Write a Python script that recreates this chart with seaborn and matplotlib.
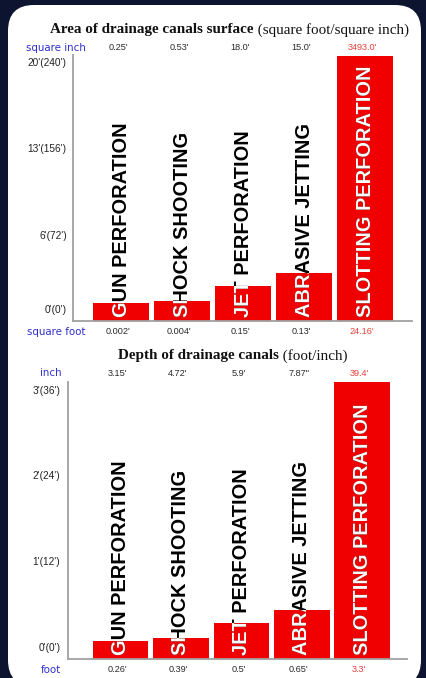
import matplotlib
matplotlib.use("Agg")
import matplotlib.pyplot as plt
import seaborn as sns
from matplotlib import transforms
from matplotlib.patches import FancyBboxPatch

# ---------------- data ----------------
methods = ["GUN PERFORATION", "SHOCK SHOOTING", "JET PERFORATION",
           "ABRASIVE JETTING", "SLOTTING PERFORATION"]

area_sq_inch = ["0.25'", "0.53'", "18.0'", "15.0'", "3493.0'"]
area_sq_foot = ["0.002'", "0.004'", "0.15'", "0.13'", "24.16'"]
area_bar_height = [1.46, 1.62, 2.83, 3.9, 21.45]      # drawn height (axis feet)
area_ticks = [0, 6, 13, 20]
area_tick_labels = ["0'(0')", "6'(72')", "13'(156')", "20'(240')"]

depth_inch = ["3.15'", "4.72'", "5.9'", '7.87"', "39.4'"]
depth_foot = ["0.26'", "0.39'", "0.5'", "0.65'", "3.3'"]
depth_bar_height = [0.21, 0.245, 0.42, 0.57, 3.23]    # drawn height (axis feet)
depth_ticks = [0, 1, 2, 3]
depth_tick_labels = ["0'(0')", "1'(12')", "2'(24')", "3'(36')"]

# ---------------- style ----------------
sns.set_style("white")
plt.rcParams["font.family"] = ["Liberation Sans", "DejaVu Sans"]

W, H = 426, 678
RED = "#f00000"
BLUE = "#2f2fd0"
VAL_RED = "#e8403a"

fig = plt.figure(figsize=(W / 100, H / 100), dpi=100)
fig.patch.set_facecolor("#0c1430")

card = FancyBboxPatch((0.08, -0.08), 4.13, 6.81,
                      boxstyle="round,pad=0,rounding_size=0.26",
                      transform=fig.dpi_scale_trans, facecolor="white",
                      edgecolor="none", zorder=0)
fig.add_artist(card)


def px_axes(left, right, top, bottom):
    return fig.add_axes([left / W, 1 - bottom / H, (right - left) / W, (bottom - top) / H])


def panel(ax, heights, ytop, ticks, tick_labels, xlim, pad,
          top_vals, bot_vals, top_name, bot_name, name_x, top_y, bot_y,
          title_bold, title_reg, title_x, title_y):
    sns.barplot(x=methods, y=heights, color=RED, saturation=1, width=0.92,
                ax=ax, linewidth=0)
    ax.set_facecolor("none")
    ax.set_xlim(*xlim)
    ax.set_ylim(0, ytop)
    ax.set_xlabel("")
    ax.set_ylabel("")
    for s in ["top", "right"]:
        ax.spines[s].set_visible(False)
    for s in ["left", "bottom"]:
        ax.spines[s].set_color("#a0a0a0")
        ax.spines[s].set_linewidth(1.3)
    ax.set_xticks([])
    ax.set_yticks(ticks, tick_labels)
    ax.tick_params(axis="y", length=0, pad=pad, labelsize=7.3, labelcolor="#222222")
    up = transforms.ScaledTranslation(0, 12 / 100, fig.dpi_scale_trans)
    for lab in ax.get_yticklabels():
        lab.set_transform(lab.get_transform() + up)

    # rotated category names, black outside bars, white inside
    lift = ax.transData + transforms.ScaledTranslation(0, 4 / 100, fig.dpi_scale_trans)
    kw = dict(rotation=90, ha="center", va="bottom", fontsize=14.4,
              fontweight="bold", family="Liberation Sans", transform=lift)
    for i, (name, patch) in enumerate(zip(methods, ax.patches)):
        ax.text(i, 0, name, color="black", clip_on=False, zorder=3, **kw)
        t = ax.text(i, 0, name, color="white", zorder=4, **kw)
        t.set_clip_path(patch)
        t.set_clip_on(True)

    # value rows
    shift = transforms.ScaledTranslation(-3 / 100, 0, fig.dpi_scale_trans)
    tr = transforms.blended_transform_factory(ax.transData, fig.transFigure) + shift
    n = len(methods)
    for i, (tv, bv) in enumerate(zip(top_vals, bot_vals)):
        c = VAL_RED if i == n - 1 else "#2a2a2a"
        fig.text(i, 1 - top_y / H, tv, transform=tr, ha="center", va="center",
                 fontsize=6.6, color=c)
        fig.text(i, 1 - bot_y / H, bv, transform=tr, ha="center", va="center",
                 fontsize=6.6, color=c)
    fig.text(name_x / W, 1 - top_y / H, top_name, ha="center", va="center",
             fontsize=7.4, color=BLUE, family="DejaVu Sans")
    fig.text(name_x / W, 1 - bot_y / H, bot_name, ha="center", va="center",
             fontsize=7.4, color=BLUE, family="DejaVu Sans")

    # title: bold part + regular part
    t1 = fig.text(title_x / W, 1 - title_y / H, title_bold, ha="left", va="center",
                  fontsize=10.9, fontweight="bold", family="Liberation Serif",
                  color="#111111")
    fig.add_artist(matplotlib.text.Annotation(
        title_reg, xy=(1, 0.5), xycoords=t1, va="center", ha="left",
        fontsize=10.9, family="Liberation Serif", color="#111111",
        annotation_clip=False))


ax1 = px_axes(73, 412, 55, 321)
panel(ax1, area_bar_height, 21.5, area_ticks, area_tick_labels, (-0.79, 4.77), 4.5,
      area_sq_inch, area_sq_foot, "square inch", "square foot", 56, 48, 332,
      "Area of drainage canals surface", " (square foot/square inch)", 50, 30)

ax2 = px_axes(68, 407, 382, 659)
panel(ax2, depth_bar_height, 3.23, depth_ticks, depth_tick_labels, (-0.87, 4.74), 5.5,
      depth_inch, depth_foot, "inch", "foot", 51, 373, 670,
      "Depth of drainage canals", " (foot/inch)", 118, 356)

fig.savefig("out.png", dpi=100, facecolor=fig.get_facecolor())
